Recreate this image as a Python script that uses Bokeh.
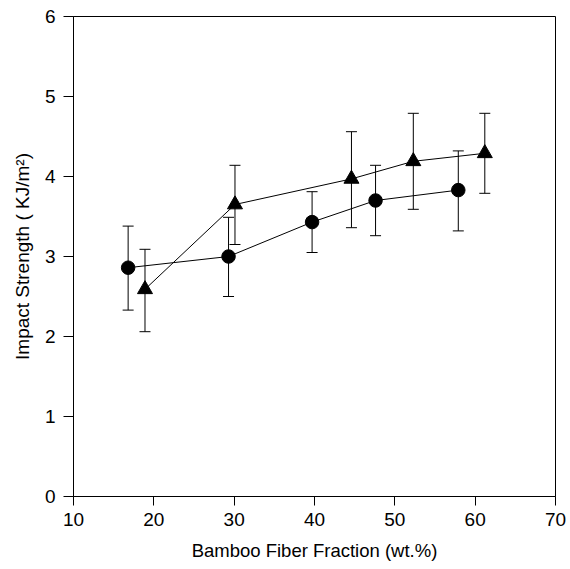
from bokeh.plotting import figure
from bokeh.models import ColumnDataSource, Whisker, TeeHead, FixedTicker, Range1d
from bokeh.embed import file_html
from bokeh.resources import INLINE

# Series 1: circles
circ_x = [16.8, 29.3, 39.7, 47.6, 57.9]
circ_y = [2.86, 3.00, 3.43, 3.70, 3.83]
circ_lo = [2.33, 2.50, 3.05, 3.26, 3.32]
circ_hi = [3.38, 3.49, 3.81, 4.14, 4.32]

# Series 2: triangles
tri_x = [18.9, 30.1, 44.6, 52.3, 61.2]
tri_y = [2.59, 3.65, 3.97, 4.19, 4.29]
tri_lo = [2.06, 3.15, 3.36, 3.59, 3.79]
tri_hi = [3.09, 4.14, 4.56, 4.79, 4.79]

x_ticks = [10, 20, 30, 40, 50, 60, 70]
y_ticks = [0, 1, 2, 3, 4, 5, 6]

FONT = "Liberation Sans"

p = figure(frame_width=482, frame_height=480, output_backend="svg", toolbar_location=None,
           x_range=Range1d(10, 70), y_range=Range1d(0, 6),
           min_border_left=73, min_border_right=13, min_border_top=16, min_border_bottom=72)

p.xgrid.visible = False
p.ygrid.visible = False
p.outline_line_color = "black"
p.outline_line_width = 1
p.background_fill_color = "white"
p.border_fill_color = "white"

for ax in (p.xaxis[0], p.yaxis[0]):
    ax.axis_line_color = "black"
    ax.major_tick_line_color = "black"
    ax.minor_tick_line_color = None
    ax.major_tick_in = 0
    ax.major_label_text_font = FONT
    ax.major_label_text_font_size = "19px"
    ax.major_label_text_color = "black"
    ax.axis_label_text_font = FONT
    ax.axis_label_text_font_style = "normal"
    ax.axis_label_text_color = "black"

p.xaxis.major_tick_out = 9
p.yaxis.major_tick_out = 10
p.xaxis.axis_label_text_font_size = "18.5px"
p.yaxis.axis_label_text_font_size = "19px"

p.xaxis.ticker = FixedTicker(ticks=x_ticks)
p.yaxis.ticker = FixedTicker(ticks=y_ticks)
p.xaxis.axis_label = "Bamboo Fiber Fraction (wt.%)"
p.yaxis.axis_label = "Impact Strength ( KJ/m\u00b2)"
p.xaxis.major_label_standoff = 7
p.yaxis.major_label_standoff = 8
p.xaxis.axis_label_standoff = 11
p.yaxis.axis_label_standoff = 9

cs = ColumnDataSource(dict(x=circ_x, y=circ_y, lo=circ_lo, hi=circ_hi))
ts = ColumnDataSource(dict(x=tri_x, y=tri_y, lo=tri_lo, hi=tri_hi))

for src in (cs, ts):
    w = Whisker(source=src, base="x", lower="lo", upper="hi",
                line_color="black", line_width=1,
                upper_head=TeeHead(size=11, line_color="black", line_width=1),
                lower_head=TeeHead(size=11, line_color="black", line_width=1))
    p.add_layout(w)

p.line("x", "y", source=cs, line_color="black", line_width=1)
p.line("x", "y", source=ts, line_color="black", line_width=1)
p.scatter("x", "y", source=cs, marker="circle", size=13.5, fill_color="black", line_color="black")
p.scatter("x", "y", source=ts, marker="triangle", size=15, fill_color="black", line_color="black")

open("out.html", "w").write(file_html(p, INLINE))
